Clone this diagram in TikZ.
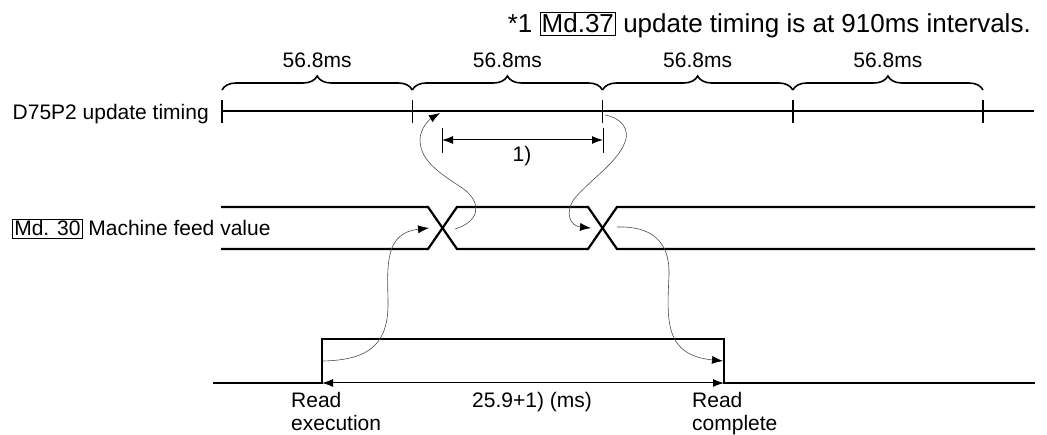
\documentclass[tikz,border=0pt]{standalone}
\usepackage{fontspec}
\setmainfont{Liberation Sans}
\usetikzlibrary{calc,arrows.meta,decorations.pathreplacing}
\newcommand{\mdbox}[1]{{\setlength{\fboxsep}{1.5pt}\setlength{\fboxrule}{0.6pt}\fbox{#1}}}

\begin{document}
\begin{tikzpicture}[x=1pt,y=-1pt,
	every node/.style={font=\fontsize{21}{23}\selectfont,inner sep=0pt},
	sig/.style={line width=2.2pt},
	tck/.style={line width=1.6pt},
	brc/.style={line width=1.6pt,decorate,decoration={brace,amplitude=14pt}},
	dim/.style={line width=1pt,{Latex[length=11pt,width=8pt]}-{Latex[length=11pt,width=8pt]}},
	hook/.style={line width=0.6pt,black!70,-{Latex[black,length=11pt,width=8pt]}}]
\useasboundingbox (0,0) rectangle (1047,435);
% title
\node[anchor=base east,font=\fontsize{26}{30}\selectfont](ttl) at (1031,33)
	{*1 \mdbox{Md.37} update timing is at 910ms intervals.};
% update timing line
\node[anchor=base east](tlbl) at (209,120){D75P2 update timing};
\foreach \x [count=\i from 0] in {222,412.3,602.5,792.8,983}
	\coordinate (t\i) at (\x,111);
\draw[sig] (t0) -- (1034,111);
\foreach \i in {0,...,4}
	\draw[tck] ($(t\i)+(0,-11)$) -- ($(t\i)+(0,12)$);
\foreach \a/\b in {0/1,1/2,2/3,3/4}{
	\draw[brc] ($(t\a)+(0,-21)$) -- ($(t\b)+(0,-21)$);
	\node[anchor=base](w\a) at ($(t\a)!0.5!(t\b)+(0,-43)$){56.8ms};
}
% 1)
\coordinate (d1a) at (442,140);
\coordinate (d1b) at (603,140);
\draw[line width=1pt] (442,128) -- (442,153) (603,128) -- (603,153);
\draw[dim] (d1a) -- (d1b);
\node[anchor=base](one) at (522,162){1)};
% machine feed value
\node[anchor=base west](flbl) at (12,236){\mdbox{Md. 30} Machine feed value};
\coordinate (x1) at (442.5,228);
\coordinate (x2) at (602.5,228);
\draw[sig] (221,207) -- (428,207) -- (457,249) -- (588,249) -- (617,207) -- (1035,207);
\draw[sig] (221,249) -- (428,249) -- (457,207) -- (588,207) -- (617,249) -- (1035,249);
% read signal
\coordinate (rd) at (322,383);
\coordinate (rc) at (724,383);
\draw[sig] (213,383) -- (rd) -- (322,339) -- (724,339) -- (rc) -- (1035,383);
\draw[dim] (rd) -- (rc);
\node[anchor=base](len) at (532,408){25.9+1) (ms)};
\node[anchor=base west,align=left](rex) at (291,431){Read\\execution};
\node[anchor=base west,align=left](rcp) at (692,431){Read\\complete};
% curved arrows
\coordinate (rdh) at (323,361);
\coordinate (x1w) at (429,228);
\coordinate (x1e) at (455,229);
\coordinate (t1a) at (440,113);
\coordinate (t2b) at (605,115);
\coordinate (x2w) at (591,228);
\coordinate (x2e) at (617,227);
\coordinate (rch) at (723,361);
\draw[hook] (rdh) .. controls (372,360) and (389,342) .. (388,300)
	.. controls (387,262) and (386,233) .. (x1w);
\draw[hook] (x1e) .. controls (478,222) and (483,205) .. (465,190)
	.. controls (445,176) and (420,163) .. (420,140)
	.. controls (420,128) and (430,119) .. (t1a);
\draw[hook] (t2b) .. controls (622,118) and (630,130) .. (625,142)
	.. controls (618,162) and (590,180) .. (575,198)
	.. controls (564,212) and (570,226) .. (x2w);
\draw[hook] (x2e) .. controls (650,226) and (670,240) .. (669,275)
	.. controls (667,320) and (664,355) .. (rch);
\end{tikzpicture}
\end{document}
